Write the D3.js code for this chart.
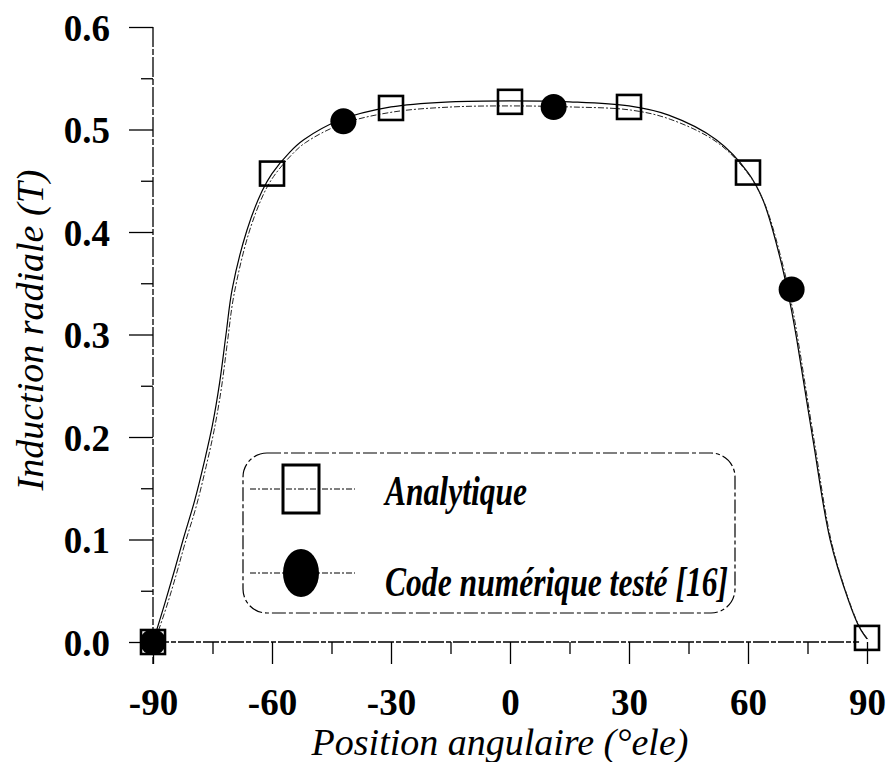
<!DOCTYPE html>
<html>
<head>
<meta charset="utf-8">
<script src="https://cdn.jsdelivr.net/npm/d3@7"></script>
<style>
  body { margin: 0; background: #fff; }
  svg { display: block; }
  text { font-family: "Liberation Serif", "Times New Roman", serif; fill: #000; }
</style>
</head>
<body>
<div id="chart"></div>
<script>
// markers
var analytiqueAngles = [-90, -60, -30, 0, 30, 60, 90];
var analytiqueValues = [0.0, 0.457, 0.521, 0.527, 0.522, 0.458, 0.004];

var codeAngles = [-90, -42, 11, 71];
var codeValues = [0.0, 0.508, 0.522, 0.344];

// the two smooth curves (nearly on top of each other)
var curveAngles = [-90, -87, -84.5, -82.4, -79.5, -77, -75, -73.2, -71.6, -70, -66.3, -62.5, -60, -55.5, -52, -43, -30, -15, 0, 15, 30, 40, 52, 60, 63.8, 68, 70.8, 72.3, 76.4, 80.7, 85.3, 88, 90];
var curveAnalytique = [0.0, 0.038, 0.071, 0.1, 0.138, 0.177, 0.212, 0.253, 0.3, 0.345, 0.402, 0.44, 0.457, 0.478, 0.49, 0.509, 0.522, 0.527, 0.528, 0.527, 0.523, 0.514, 0.49, 0.458, 0.431, 0.376, 0.327, 0.295, 0.197, 0.1, 0.041, 0.015, 0.003];
var curveCode = [0.0, 0.034, 0.066, 0.095, 0.132, 0.171, 0.206, 0.246, 0.293, 0.338, 0.398, 0.437, 0.454, 0.475, 0.487, 0.505, 0.517, 0.522, 0.523, 0.522, 0.519, 0.51, 0.487, 0.455, 0.428, 0.374, 0.326, 0.293, 0.194, 0.097, 0.038, 0.013, 0.002];

var xTicks = [-90, -60, -30, 0, 30, 60, 90];
var yTicks = [0.0, 0.1, 0.2, 0.3, 0.4, 0.5, 0.6];

var w = 888, h = 762;

var svg = d3.select("#chart").append("svg")
  .attr("width", w).attr("height", h);

var x = d3.scaleLinear().domain([-90, 90]).range([153, 867]);
var y = d3.scaleLinear().domain([0, 0.6]).range([642, 27]);

// axes
var xAxis = d3.axisBottom(x).tickValues(d3.range(-90, 91, 15))
  .tickSize(0).tickFormat("");
var gx = svg.append("g").attr("transform", "translate(0," + y(0) + ")").call(xAxis);
gx.select(".domain").remove();
gx.append("line").attr("x1", x(-90)).attr("x2", x(88)).attr("stroke", "#000")
  .attr("stroke-width", 1.3).attr("stroke-dasharray", "16,2,5,2");
gx.selectAll(".tick line").attr("y2", function(d) { return d % 30 === 0 ? 22 : 12; })
  .attr("stroke", "#000").attr("stroke-width", 1.3);
gx.selectAll(".tick").filter(function(d) { return xTicks.indexOf(d) >= 0; })
  .append("text")
  .attr("y", 73).attr("text-anchor", "middle")
  .style("font-size", "37px").style("font-weight", "bold")
  .text(function(d) { return String(d); });

var yAxis = d3.axisLeft(y).tickValues(d3.range(0, 0.61, 0.05))
  .tickSize(0).tickFormat("");
var gy = svg.append("g").attr("transform", "translate(" + x(-90) + ",0)").call(yAxis);
gy.select(".domain").remove();
gy.append("line").attr("y1", y(0.6)).attr("y2", y(0) + 22).attr("stroke", "#000")
  .attr("stroke-width", 1.3).attr("stroke-dasharray", "20,2,6,2");
gy.selectAll(".tick line").attr("x2", function(d, i) { return i % 2 === 0 ? -24 : -12; })
  .attr("stroke", "#000").attr("stroke-width", 1.3);
gy.selectAll(".tick").each(function(d, i) {
  if (i % 2 !== 0) return;
  d3.select(this).append("text")
    .attr("x", -43).attr("y", 13).attr("text-anchor", "end")
    .style("font-size", "37px").style("font-weight", "bold")
    .text(d3.format(".1f")(yTicks[i / 2]));
});

// axis titles
svg.append("text").attr("x", 500).attr("y", 755).attr("text-anchor", "middle")
  .style("font-size", "38px").style("font-style", "italic")
  .text("Position angulaire (°ele)");
svg.append("text").attr("transform", "translate(43,330) rotate(-90)")
  .attr("text-anchor", "middle")
  .style("font-size", "38px").style("font-style", "italic")
  .text("Induction radiale (T)");

// curves
var line = d3.line().curve(d3.curveCatmullRom.alpha(0.5));
svg.append("path")
  .attr("d", line(curveAngles.map(function(a, i) { return [x(a), y(curveAnalytique[i])]; })))
  .attr("fill", "none").attr("stroke", "#000").attr("stroke-width", 1.2);
svg.append("path")
  .attr("d", line(curveAngles.map(function(a, i) { return [x(a) + 1.5, y(curveCode[i])]; })))
  .attr("fill", "none").attr("stroke", "#222").attr("stroke-width", 1)
  .attr("stroke-dasharray", "6,2,2,2");

// markers
svg.selectAll("rect.analytique").data(analytiqueAngles).enter().append("rect")
  .attr("class", "analytique")
  .attr("x", function(d) { return x(d) - 12; })
  .attr("y", function(d, i) { return y(analytiqueValues[i]) - 12; })
  .attr("width", 24).attr("height", 24)
  .attr("fill", "none").attr("stroke", "#000").attr("stroke-width", 2.6);

svg.selectAll("circle.code").data(codeAngles).enter().append("circle")
  .attr("class", "code")
  .attr("cx", function(d) { return x(d); })
  .attr("cy", function(d, i) { return y(codeValues[i]); })
  .attr("r", 13).attr("fill", "#000");

// legend
var lg = svg.append("g");
lg.append("rect").attr("x", 243).attr("y", 453).attr("width", 492).attr("height", 160)
  .attr("rx", 24).attr("fill", "none").attr("stroke", "#000")
  .attr("stroke-width", 1.2).attr("stroke-dasharray", "14,3,4,3");

lg.append("line").attr("x1", 250).attr("x2", 355).attr("y1", 489).attr("y2", 489)
  .attr("stroke", "#000").attr("stroke-width", 1).attr("stroke-dasharray", "6,2,2,2");
lg.append("rect").attr("x", 283).attr("y", 465).attr("width", 36).attr("height", 48)
  .attr("fill", "none").attr("stroke", "#000").attr("stroke-width", 3);
lg.append("text").attr("x", 385).attr("y", 505)
  .attr("textLength", 142).attr("lengthAdjust", "spacingAndGlyphs")
  .style("font-size", "43px").style("font-weight", "bold").style("font-style", "italic")
  .text("Analytique");

lg.append("line").attr("x1", 250).attr("x2", 355).attr("y1", 573).attr("y2", 573)
  .attr("stroke", "#000").attr("stroke-width", 1).attr("stroke-dasharray", "6,2,2,2");
lg.append("ellipse").attr("cx", 301).attr("cy", 573).attr("rx", 18).attr("ry", 24)
  .attr("fill", "#000");
lg.append("text").attr("x", 385).attr("y", 596)
  .attr("textLength", 343).attr("lengthAdjust", "spacingAndGlyphs")
  .style("font-size", "43px").style("font-weight", "bold").style("font-style", "italic")
  .text("Code numérique testé [16]");
</script>
</body>
</html>
